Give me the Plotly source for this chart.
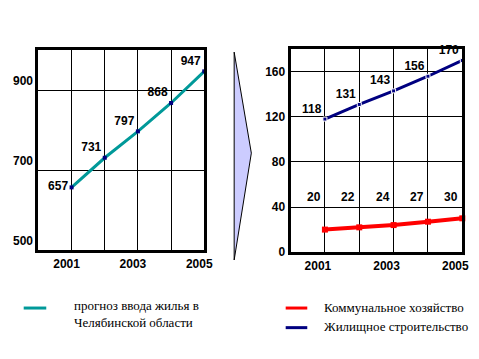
import plotly.graph_objects as go

W, H = 479, 359

years = [2001, 2002, 2003, 2004, 2005]
housing_forecast = [657, 731, 797, 868, 947]
communal = [20, 22, 24, 27, 30]
housing_constr = [118, 131, 143, 156, 170]

left_yticks = [500, 700, 900]
right_yticks = [0, 40, 80, 120, 160]
xtick_text = ["2001", "", "2003", "", "2005"]

legend_left = "прогноз ввода жилья в<br>Челябинской области"
legend_comm = "Коммунальное хозяйство"
legend_house = "Жилищное строительство"

TEAL = "#009999"
NAVY = "#000080"
RED = "#FF0000"

def px(x):
    return x / W

def py(y):
    return 1 - y / H

fig = go.Figure()

lab_font = dict(family="Liberation Sans, Arial", size=12, color="black", weight="bold")

fig.add_trace(go.Scatter(
    x=years, y=housing_forecast, mode="lines+markers+text",
    line=dict(color=TEAL, width=3),
    marker=dict(symbol="square", size=4, color=NAVY),
    text=[str(v) for v in housing_forecast],
    textposition=["middle left", "top left", "top left", "top left", "top left"],
    textfont=lab_font, cliponaxis=False, showlegend=False,
    xaxis="x", yaxis="y"))

fig.add_trace(go.Scatter(
    x=years, y=communal, mode="lines+markers",
    line=dict(color=RED, width=4),
    marker=dict(symbol="square", size=6, color=RED),
    showlegend=False, xaxis="x2", yaxis="y2", cliponaxis=False))

fig.add_trace(go.Scatter(
    x=years, y=housing_constr, mode="lines+markers+text",
    line=dict(color=NAVY, width=3),
    marker=dict(symbol="square", size=4, color=NAVY, line=dict(color="white", width=1)),
    text=[str(v) for v in housing_constr],
    textposition="top left",
    textfont=lab_font, cliponaxis=False, showlegend=False,
    xaxis="x2", yaxis="y2"))

# labels of red series, placed on a common row above the line
annotations = []
for xv, v in zip(years, communal):
    annotations.append(dict(x=xv, y=49, xref="x2", yref="y2", text=str(v),
                            showarrow=False, xanchor="right", xshift=-2,
                            font=lab_font))

tick_font = dict(family="Liberation Sans, Arial", size=12, color="black", weight="bold")
axis_common = dict(showline=True, mirror=True, linecolor="black", linewidth=3,
                   showgrid=True, gridcolor="black", gridwidth=1, zeroline=False,
                   ticks="", tickfont=tick_font, fixedrange=True)

fig.update_layout(
    width=W, height=H, autosize=False,
    margin=dict(l=0, r=0, t=0, b=0),
    paper_bgcolor="white", plot_bgcolor="white",
    xaxis=dict(domain=[px(31), px(200)], range=[2000, 2005], anchor="y",
               tickvals=years, ticktext=xtick_text, ticklabelshift=-5,
               **axis_common),
    yaxis=dict(domain=[py(247), py(43)], range=[500, 1000], anchor="x",
               tickvals=left_yticks, ticktext=[str(v) for v in left_yticks],
               ticklabelshift=-9, **axis_common),
    xaxis2=dict(domain=[px(288), px(463)], range=[2000, 2005], anchor="y2",
                tickvals=years, ticktext=xtick_text, ticklabelshift=-7,
                **axis_common),
    yaxis2=dict(domain=[py(249), py(42)], range=[0, 180], anchor="x2",
                tickvals=right_yticks, ticktext=[str(v) for v in right_yticks],
                **axis_common),
    font=dict(family="Liberation Sans, Arial", size=12, color="black"),
)

shapes = []
# arrow between the charts
shapes.append(dict(type="path", xref="paper", yref="paper",
                   path=f"M {px(230.5)} {py(45)} L {px(248)} {py(148)} L {px(230.5)} {py(257)} Z",
                   fillcolor="#CCCCFF", line=dict(color="black", width=1)))
# thin stray line at the right chart edge
shapes.append(dict(type="line", xref="paper", yref="paper",
                   x0=px(465), x1=px(465), y0=py(146), y1=py(252),
                   line=dict(color="black", width=1)))
# legend keys
shapes.append(dict(type="line", xref="paper", yref="paper",
                   x0=px(16), x1=px(39), y0=py(306), y1=py(306),
                   line=dict(color=TEAL, width=3)))
shapes.append(dict(type="line", xref="paper", yref="paper",
                   x0=px(283), x1=px(305), y0=py(306), y1=py(306),
                   line=dict(color=RED, width=3)))
shapes.append(dict(type="line", xref="paper", yref="paper",
                   x0=px(283), x1=px(305), y0=py(326), y1=py(326),
                   line=dict(color=NAVY, width=3)))

leg_font = dict(family="Liberation Serif, Times New Roman", size=13, color="black")
annotations.append(dict(x=px(65), y=py(312), xref="paper", yref="paper",
                        text=legend_left, showarrow=False, xanchor="left",
                        yanchor="middle", align="left", font=leg_font))
annotations.append(dict(x=px(320), y=py(305), xref="paper", yref="paper",
                        text=legend_comm, showarrow=False, xanchor="left",
                        yanchor="middle", font=leg_font))
annotations.append(dict(x=px(320), y=py(325), xref="paper", yref="paper",
                        text=legend_house, showarrow=False, xanchor="left",
                        yanchor="middle", font=leg_font))

fig.update_layout(shapes=shapes, annotations=annotations)

fig.write_html("out.html")
